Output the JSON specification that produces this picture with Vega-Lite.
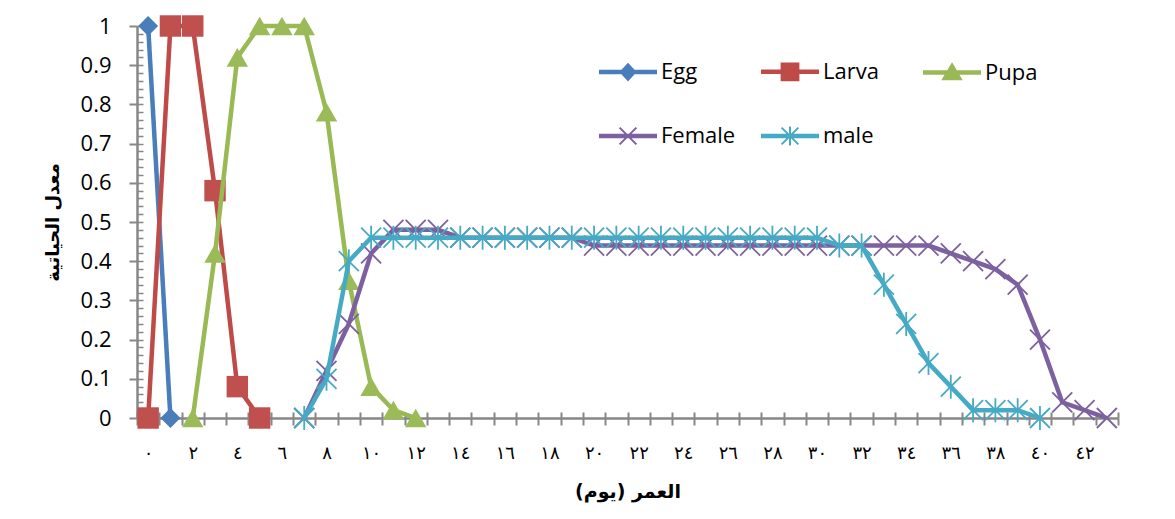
{
  "$schema": "https://vega.github.io/schema/vega-lite/v6.json",
  "width": 981,
  "height": 392,
  "autosize": "none",
  "padding": {"left": 137, "top": 26, "right": 57, "bottom": 101},
  "background": "white",
  "config": {"view": {"stroke": null}, "font": "Open Sans"},
  "data": {"values": [
    {"day": 0, "stage": "Egg", "value": 1}, {"day": 1, "stage": "Egg", "value": 0},
    {"day": 0, "stage": "Larva", "value": 0}, {"day": 1, "stage": "Larva", "value": 1}, {"day": 2, "stage": "Larva", "value": 1}, {"day": 3, "stage": "Larva", "value": 0.58}, {"day": 4, "stage": "Larva", "value": 0.08}, {"day": 5, "stage": "Larva", "value": 0},
    {"day": 2, "stage": "Pupa", "value": 0}, {"day": 3, "stage": "Pupa", "value": 0.42}, {"day": 4, "stage": "Pupa", "value": 0.92}, {"day": 5, "stage": "Pupa", "value": 1}, {"day": 6, "stage": "Pupa", "value": 1}, {"day": 7, "stage": "Pupa", "value": 1}, {"day": 8, "stage": "Pupa", "value": 0.78}, {"day": 9, "stage": "Pupa", "value": 0.35}, {"day": 10, "stage": "Pupa", "value": 0.08}, {"day": 11, "stage": "Pupa", "value": 0.02}, {"day": 12, "stage": "Pupa", "value": 0},
    {"day": 7, "stage": "Female", "value": 0}, {"day": 8, "stage": "Female", "value": 0.12}, {"day": 9, "stage": "Female", "value": 0.24}, {"day": 10, "stage": "Female", "value": 0.42}, {"day": 11, "stage": "Female", "value": 0.48}, {"day": 12, "stage": "Female", "value": 0.48}, {"day": 13, "stage": "Female", "value": 0.48}, {"day": 14, "stage": "Female", "value": 0.46}, {"day": 15, "stage": "Female", "value": 0.46}, {"day": 16, "stage": "Female", "value": 0.46}, {"day": 17, "stage": "Female", "value": 0.46}, {"day": 18, "stage": "Female", "value": 0.46}, {"day": 19, "stage": "Female", "value": 0.46}, {"day": 20, "stage": "Female", "value": 0.44}, {"day": 21, "stage": "Female", "value": 0.44}, {"day": 22, "stage": "Female", "value": 0.44}, {"day": 23, "stage": "Female", "value": 0.44}, {"day": 24, "stage": "Female", "value": 0.44}, {"day": 25, "stage": "Female", "value": 0.44}, {"day": 26, "stage": "Female", "value": 0.44}, {"day": 27, "stage": "Female", "value": 0.44}, {"day": 28, "stage": "Female", "value": 0.44}, {"day": 29, "stage": "Female", "value": 0.44}, {"day": 30, "stage": "Female", "value": 0.44}, {"day": 31, "stage": "Female", "value": 0.44}, {"day": 32, "stage": "Female", "value": 0.44}, {"day": 33, "stage": "Female", "value": 0.44}, {"day": 34, "stage": "Female", "value": 0.44}, {"day": 35, "stage": "Female", "value": 0.44}, {"day": 36, "stage": "Female", "value": 0.42}, {"day": 37, "stage": "Female", "value": 0.40}, {"day": 38, "stage": "Female", "value": 0.38}, {"day": 39, "stage": "Female", "value": 0.34}, {"day": 40, "stage": "Female", "value": 0.20}, {"day": 41, "stage": "Female", "value": 0.04}, {"day": 42, "stage": "Female", "value": 0.02}, {"day": 43, "stage": "Female", "value": 0},
    {"day": 7, "stage": "male", "value": 0}, {"day": 8, "stage": "male", "value": 0.10}, {"day": 9, "stage": "male", "value": 0.40}, {"day": 10, "stage": "male", "value": 0.46}, {"day": 11, "stage": "male", "value": 0.46}, {"day": 12, "stage": "male", "value": 0.46}, {"day": 13, "stage": "male", "value": 0.46}, {"day": 14, "stage": "male", "value": 0.46}, {"day": 15, "stage": "male", "value": 0.46}, {"day": 16, "stage": "male", "value": 0.46}, {"day": 17, "stage": "male", "value": 0.46}, {"day": 18, "stage": "male", "value": 0.46}, {"day": 19, "stage": "male", "value": 0.46}, {"day": 20, "stage": "male", "value": 0.46}, {"day": 21, "stage": "male", "value": 0.46}, {"day": 22, "stage": "male", "value": 0.46}, {"day": 23, "stage": "male", "value": 0.46}, {"day": 24, "stage": "male", "value": 0.46}, {"day": 25, "stage": "male", "value": 0.46}, {"day": 26, "stage": "male", "value": 0.46}, {"day": 27, "stage": "male", "value": 0.46}, {"day": 28, "stage": "male", "value": 0.46}, {"day": 29, "stage": "male", "value": 0.46}, {"day": 30, "stage": "male", "value": 0.46}, {"day": 31, "stage": "male", "value": 0.44}, {"day": 32, "stage": "male", "value": 0.44}, {"day": 33, "stage": "male", "value": 0.34}, {"day": 34, "stage": "male", "value": 0.24}, {"day": 35, "stage": "male", "value": 0.14}, {"day": 36, "stage": "male", "value": 0.08}, {"day": 37, "stage": "male", "value": 0.02}, {"day": 38, "stage": "male", "value": 0.02}, {"day": 39, "stage": "male", "value": 0.02}, {"day": 40, "stage": "male", "value": 0}
  ]},
  "layer": [
    {
      "transform": [{"filter": "datum.stage == 'Egg'"}],
      "mark": {"type": "line", "strokeWidth": 4.5},
      "encoding": {
        "x": {"field": "day", "type": "ordinal", "scale": {"type": "band", "paddingInner": 0, "paddingOuter": 0},
          "axis": {"orient": "bottom", "title": "العمر (يوم)", "titleFont": "DejaVu Sans", "titleFontWeight": "bold", "titleFontSize": 19, "titleColor": "black", "titlePadding": 20,
            "labelExpr": "datum.value % 2 == 0 ? (datum.value >= 10 ? substring('٠١٢٣٤٥٦٧٨٩', floor(datum.value/10), floor(datum.value/10)+1) : '') + substring('٠١٢٣٤٥٦٧٨٩', datum.value % 10, datum.value % 10 + 1) : ''",
            "labelFont": "DejaVu Sans", "labelFontSize": 18, "labelColor": "black", "labelAngle": 0, "labelPadding": 19,
            "tickBand": "extent", "tickSize": 7, "tickWidth": 2, "tickColor": "#878787", "domainColor": "#878787", "domainWidth": 2.5, "grid": false}},
        "y": {"field": "value", "type": "quantitative", "scale": {"domain": [0, 1]},
          "axis": {"orient": "left", "values": [0, 0.1, 0.2, 0.3, 0.4, 0.5, 0.6, 0.7, 0.8, 0.9, 1], "format": "~g",
            "labelFont": "Open Sans", "labelFontSize": 22, "labelColor": "black", "labelPadding": 18,
            "tickSize": 8, "tickWidth": 2, "tickColor": "#878787", "domainColor": "#878787", "domainWidth": 2.5, "grid": false,
            "title": "معدل الحياتية", "titleFont": "DejaVu Sans", "titleFontSize": 18, "titleFontWeight": "bold", "titleColor": "black", "titlePadding": 18}},
        "color": {"field": "stage", "type": "nominal",
          "scale": {"domain": ["Egg", "Larva", "Pupa", "Female", "male"], "range": ["#4A7EBB", "#BE4B48", "#98B954", "#7D60A0", "#46AAC5"]},
          "legend": {"orient": "none", "legendX": 462, "legendY": 16, "columns": 3, "direction": "horizontal", "title": null, "padding": 0,
            "labelFont": "Open Sans", "labelFontSize": 22, "labelColor": "black", "labelOffset": 4,
            "symbolSize": 3136, "columnPadding": 22, "rowPadding": 22, "gridAlign": "all",
            "encode": {"symbols": {"update": {
              "shape": {"signal": "datum.value == 'Egg' ? 'M-1,-0.045L1,-0.045L1,0.045L-1,0.045Z M0,-0.28L0.26,0L0,0.28L-0.26,0Z' : datum.value == 'Larva' ? 'M-1,-0.045L1,-0.045L1,0.045L-1,0.045Z M-0.3,-0.3L0.3,-0.3L0.3,0.3L-0.3,0.3Z' : datum.value == 'Pupa' ? 'M-1,-0.045L1,-0.045L1,0.045L-1,0.045Z M0,-0.3L0.32,0.24L-0.32,0.24Z' : datum.value == 'Female' ? 'M-1,-0.045L1,-0.045L1,0.045L-1,0.045Z M-0.3,-0.3L0.3,0.3M-0.3,0.3L0.3,-0.3' : 'M-1,-0.045L1,-0.045L1,0.045L-1,0.045Z M-0.3,-0.3L0.3,0.3M-0.3,0.3L0.3,-0.3M0,-0.34L0,0.34'"},
              "fill": {"scale": "color", "field": "value"},
              "stroke": {"scale": "color", "field": "value"},
              "strokeWidth": {"value": 2},
              "opacity": {"value": 1}
            }}}}}
      }
    },
    {
      "transform": [{"filter": "datum.stage == 'Egg'"}],
      "mark": {"type": "point", "shape": "diamond", "filled": true, "color": "#4A7EBB", "size": 400, "opacity": 1},
      "encoding": {
        "x": {"field": "day", "type": "ordinal",
          "axis": {"orient": "bottom", "tickBand": "extent", "tickSize": -6, "labels": false, "domain": false, "title": null, "tickColor": "#878787", "tickWidth": 2, "grid": false}},
        "y": {"field": "value", "type": "quantitative",
          "axis": {"orient": "left", "values": [0, 0.02, 0.04, 0.06, 0.08, 0.1, 0.12, 0.14, 0.16, 0.18, 0.2, 0.22, 0.24, 0.26, 0.28, 0.3, 0.32, 0.34, 0.36, 0.38, 0.4, 0.42, 0.44, 0.46, 0.48, 0.5, 0.52, 0.54, 0.56, 0.58, 0.6, 0.62, 0.64, 0.66, 0.68, 0.7, 0.72, 0.74, 0.76, 0.78, 0.8, 0.82, 0.84, 0.86, 0.88, 0.9, 0.92, 0.94, 0.96, 0.98, 1], "tickSize": -6, "labels": false, "domain": false, "title": null, "tickColor": "#878787", "tickWidth": 1.5, "grid": false}}
      }
    },
    {
      "transform": [{"filter": "datum.stage == 'Larva'"}],
      "mark": {"type": "line", "color": "#BE4B48", "strokeWidth": 4.5},
      "encoding": {"x": {"field": "day", "type": "ordinal", "axis": null}, "y": {"field": "value", "type": "quantitative", "axis": null}}
    },
    {
      "transform": [{"filter": "datum.stage == 'Larva'"}],
      "mark": {"type": "point", "shape": "square", "filled": true, "color": "#C0504D", "size": 460, "opacity": 1},
      "encoding": {"x": {"field": "day", "type": "ordinal", "axis": null}, "y": {"field": "value", "type": "quantitative", "axis": null}}
    },
    {
      "transform": [{"filter": "datum.stage == 'Pupa'"}],
      "mark": {"type": "line", "color": "#98B954", "strokeWidth": 4.5},
      "encoding": {"x": {"field": "day", "type": "ordinal", "axis": null}, "y": {"field": "value", "type": "quantitative", "axis": null}}
    },
    {
      "transform": [{"filter": "datum.stage == 'Pupa'"}],
      "mark": {"type": "point", "shape": "triangle-up", "filled": true, "color": "#9BBB59", "size": 460, "opacity": 1},
      "encoding": {"x": {"field": "day", "type": "ordinal", "axis": null}, "y": {"field": "value", "type": "quantitative", "axis": null}}
    },
    {
      "transform": [{"filter": "datum.stage == 'Female'"}],
      "mark": {"type": "line", "color": "#7D60A0", "strokeWidth": 4.5},
      "encoding": {"x": {"field": "day", "type": "ordinal", "axis": null}, "y": {"field": "value", "type": "quantitative", "axis": null}}
    },
    {
      "transform": [{"filter": "datum.stage == 'Female'"}],
      "mark": {"type": "point", "shape": "M-1,-1L1,1M-1,1L1,-1", "filled": false, "color": "#7D60A0", "strokeWidth": 1.8, "size": 400, "opacity": 1},
      "encoding": {"x": {"field": "day", "type": "ordinal", "axis": null}, "y": {"field": "value", "type": "quantitative", "axis": null}}
    },
    {
      "transform": [{"filter": "datum.stage == 'male'"}],
      "mark": {"type": "line", "color": "#46AAC5", "strokeWidth": 4.5},
      "encoding": {"x": {"field": "day", "type": "ordinal", "axis": null}, "y": {"field": "value", "type": "quantitative", "axis": null}}
    },
    {
      "transform": [{"filter": "datum.stage == 'male'"}],
      "mark": {"type": "point", "shape": "M-1,-1L1,1M-1,1L1,-1M0,-1.2L0,1.2", "filled": false, "color": "#46AAC5", "strokeWidth": 1.8, "size": 400, "opacity": 1},
      "encoding": {"x": {"field": "day", "type": "ordinal", "axis": null}, "y": {"field": "value", "type": "quantitative", "axis": null}}
    }
  ],
  "resolve": {"axis": {"x": "independent", "y": "independent"}}
}
